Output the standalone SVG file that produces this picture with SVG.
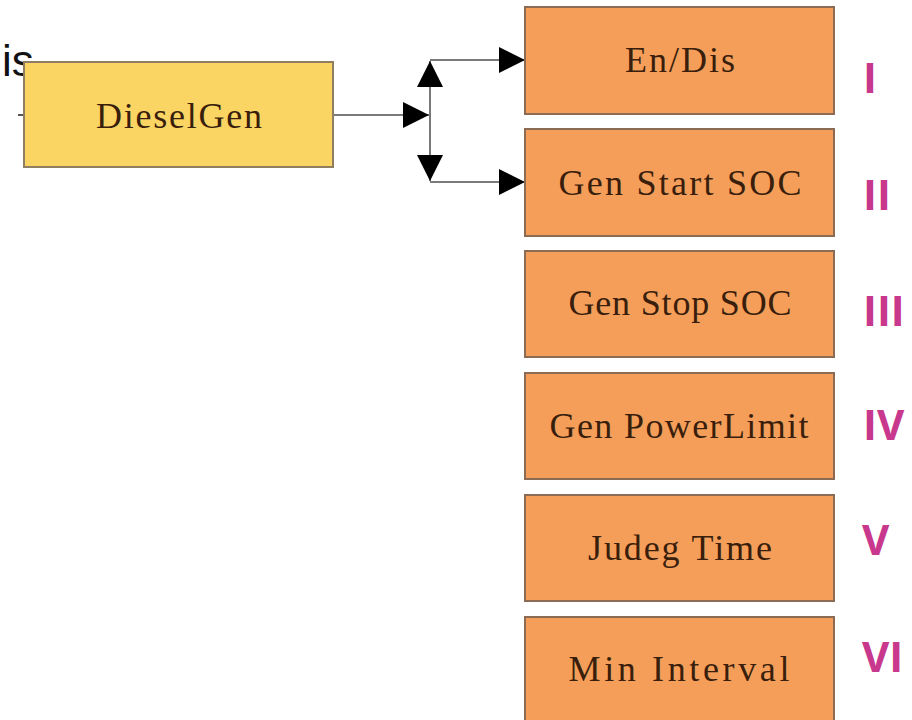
<svg xmlns="http://www.w3.org/2000/svg" width="912" height="720" viewBox="0 0 912 720">
<style>
.box{fill:#F59E5A;stroke:#8C6B55;stroke-width:2}
.ybox{fill:#FAD563;stroke:#8F7F60;stroke-width:2}
.t{font-family:"Liberation Serif","Times New Roman",serif;font-size:36px;fill:#3A1E0C;text-anchor:middle}
.n{font-family:"Open Sans","Noto Sans",sans-serif;font-weight:bold;font-size:42px;fill:#C8388C}
.c{fill:none;stroke:#7A7A7A;stroke-width:2}
</style>
<defs>
<marker id="ah" markerUnits="userSpaceOnUse" markerWidth="26" markerHeight="26" viewBox="0 0 24 24" refX="24" refY="12" orient="auto">
<path d="M0,0 L24,12 L0,24 z" fill="#000"/>
</marker>
</defs>
<rect width="912" height="720" fill="#fff"/>
<text x="2" y="76" font-family="Liberation Sans,Arial,sans-serif" font-size="44" fill="#111">is</text>
<line x1="18" y1="115" x2="24" y2="115" stroke="#555" stroke-width="2"/>
<g id="connectors">
<path class="c" d="M333,115 H429" marker-end="url(#ah)"/>
<path class="c" d="M430,115 V61" marker-end="url(#ah)"/>
<path class="c" d="M430,115 V181" marker-end="url(#ah)"/>
<path class="c" d="M430,60 H525" marker-end="url(#ah)"/>
<path class="c" d="M430,182 H525" marker-end="url(#ah)"/>
</g>
<g id="dieselgen">
<rect class="ybox" x="24" y="62" width="309" height="105"/>
<text class="t" x="179" y="128" textLength="166" lengthAdjust="spacing">DieselGen</text>
</g>
<g id="endis">
<rect class="box" x="525" y="7" width="309" height="107"/>
<text class="t" x="680" y="72" textLength="110" lengthAdjust="spacing">En/Dis</text>
</g>
<g id="genstartsoc">
<rect class="box" x="525" y="129" width="309" height="107"/>
<text class="t" x="680" y="195" textLength="243" lengthAdjust="spacing">Gen Start SOC</text>
</g>
<g id="genstopsoc">
<rect class="box" x="525" y="251" width="309" height="106"/>
<text class="t" x="680" y="315" textLength="223" lengthAdjust="spacing">Gen Stop SOC</text>
</g>
<g id="genpowerlimit">
<rect class="box" x="525" y="373" width="309" height="106"/>
<text class="t" x="679" y="438" textLength="259" lengthAdjust="spacing">Gen PowerLimit</text>
</g>
<g id="judegtime">
<rect class="box" x="525" y="495" width="309" height="106"/>
<text class="t" x="680" y="560" textLength="184" lengthAdjust="spacing">Judeg Time</text>
</g>
<g id="mininterval">
<rect class="box" x="525" y="617" width="309" height="110"/>
<text class="t" x="679" y="681" textLength="221" lengthAdjust="spacing">Min Interval</text>
</g>
<g id="labels">
<text class="n" x="863" y="93">I</text>
<text class="n" x="863" y="210">II</text>
<text class="n" x="863" y="326">III</text>
<text class="n" x="863" y="440">IV</text>
<text class="n" x="862" y="555">V</text>
<text class="n" x="862" y="672">VI</text>
</g>
</svg>
